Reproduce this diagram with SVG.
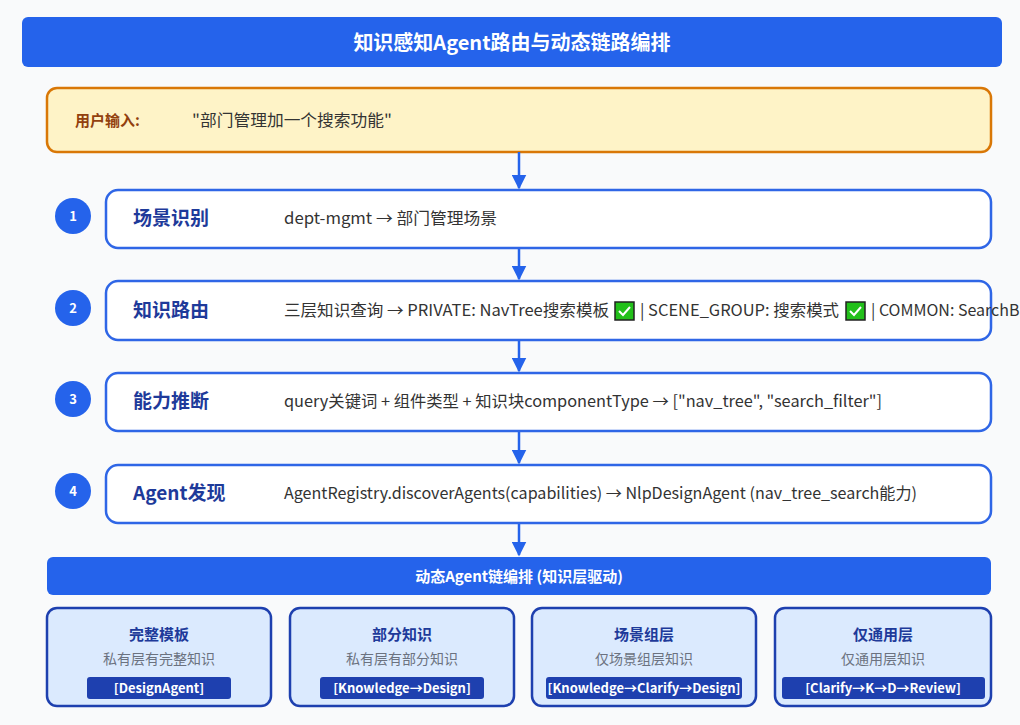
<svg xmlns="http://www.w3.org/2000/svg" width="1020" height="725" viewBox="0 0 1020 725">
<defs>
<style>
text{font-family:"Noto Sans CJK SC","Noto Sans",sans-serif}
.step{fill:#fff;stroke:#2f66e6;stroke-width:2.5}
.num{fill:#2563eb}
.numt{fill:#fff;font-size:13px;font-weight:bold;text-anchor:middle}
.lbl{fill:#1e3a9a;font-size:19px;font-weight:bold}
.desc{fill:#333;font-size:16px}
.card{fill:#dbeafe;stroke:#1e40af;stroke-width:2.5}
.ct{fill:#1e3a9a;font-size:15px;font-weight:bold;text-anchor:middle}
.cs{fill:#6b7280;font-size:14px;text-anchor:middle}
.tag{fill:#1e40af}
.tagt{fill:#fff;font-size:13px;font-weight:bold;text-anchor:middle}
.ar{stroke:#2563eb;stroke-width:2.5}
.ck{fill:#22c01a;stroke:#222;stroke-width:1.5}
</style>
<marker id="ah" viewBox="0 0 10 10" refX="9" refY="5" markerWidth="6" markerHeight="6" orient="auto"><path d="M0,0L10,5L0,10z" fill="#2563eb"/></marker>
</defs>
<rect width="1020" height="725" fill="#f9fafb"/>
<g id="title"><rect x="22" y="17" width="980" height="50" rx="6" fill="#2563eb"/><text x="512" y="50" text-anchor="middle" fill="#fff" font-size="20" font-weight="bold">知识感知Agent路由与动态链路编排</text></g>
<g id="input"><rect x="47" y="88" width="944" height="64" rx="10" fill="#fef3c7" stroke="#d97706" stroke-width="2.5"/><text x="75" y="126" fill="#92400e" font-size="15" font-weight="bold">用户输入:</text><text x="192" y="126" fill="#333" font-size="16" textLength="200" lengthAdjust="spacingAndGlyphs">"部门管理加一个搜索功能"</text></g>
<g id="connectors">
<line class="ar" x1="519" y1="152" x2="519" y2="188" marker-end="url(#ah)"/>
<line class="ar" x1="519" y1="248" x2="519" y2="279" marker-end="url(#ah)"/>
<line class="ar" x1="519" y1="340" x2="519" y2="371" marker-end="url(#ah)"/>
<line class="ar" x1="519" y1="431" x2="519" y2="463" marker-end="url(#ah)"/>
<line class="ar" x1="519" y1="523" x2="519" y2="555" marker-end="url(#ah)"/>
</g>
<g id="step1"><circle class="num" cx="73" cy="216" r="18"/><text class="numt" x="73" y="221">1</text><rect class="step" x="106" y="190" width="885" height="58" rx="12"/><text class="lbl" x="133" y="225">场景识别</text><text class="desc" x="284" y="224" textLength="213" lengthAdjust="spacingAndGlyphs">dept-mgmt → 部门管理场景</text></g>
<g id="step2"><circle class="num" cx="73" cy="308" r="18"/><text class="numt" x="73" y="313">2</text><rect class="step" x="106" y="281" width="885" height="59" rx="12"/><text class="lbl" x="133" y="317">知识路由</text><text class="desc" x="284" y="316" textLength="325" lengthAdjust="spacingAndGlyphs">三层知识查询 → PRIVATE: NavTree搜索模板</text><rect class="ck" x="615" y="302" width="19" height="18"/><path d="M619,311l4,4l7,-8" fill="none" stroke="#fff" stroke-width="2"/><text class="desc" x="640" y="316" textLength="199" lengthAdjust="spacingAndGlyphs">| SCENE_GROUP: 搜索模式</text><rect class="ck" x="846" y="302" width="19" height="18"/><path d="M850,311l4,4l7,-8" fill="none" stroke="#fff" stroke-width="2"/><text class="desc" x="871" y="316">| COMMON: SearchBar</text></g>
<g id="step3"><circle class="num" cx="73" cy="399" r="18"/><text class="numt" x="73" y="404">3</text><rect class="step" x="106" y="373" width="885" height="58" rx="12"/><text class="lbl" x="133" y="408">能力推断</text><text class="desc" x="284" y="407" textLength="598" lengthAdjust="spacingAndGlyphs">query关键词 + 组件类型 + 知识块componentType → ["nav_tree", "search_filter"]</text></g>
<g id="step4"><circle class="num" cx="73" cy="491" r="18"/><text class="numt" x="73" y="496">4</text><rect class="step" x="106" y="465" width="885" height="58" rx="12"/><text class="lbl" x="133" y="500">Agent发现</text><text class="desc" x="284" y="499" textLength="633" lengthAdjust="spacingAndGlyphs">AgentRegistry.discoverAgents(capabilities) → NlpDesignAgent (nav_tree_search能力)</text></g>
<g id="chain"><rect x="47" y="557" width="944" height="38" rx="6" fill="#2563eb"/><text x="519" y="582" text-anchor="middle" fill="#fff" font-size="15" font-weight="bold">动态Agent链编排 (知识层驱动)</text></g>
<g id="card1"><rect class="card" x="47" y="608" width="224" height="98" rx="10"/><text class="ct" x="159" y="640">完整模板</text><text class="cs" x="159" y="664">私有层有完整知识</text><rect class="tag" x="87" y="677" width="144" height="22" rx="3"/><text class="tagt" x="159" y="693">[DesignAgent]</text></g>
<g id="card2"><rect class="card" x="290" y="608" width="224" height="98" rx="10"/><text class="ct" x="402" y="640">部分知识</text><text class="cs" x="402" y="664">私有层有部分知识</text><rect class="tag" x="320" y="677" width="164" height="22" rx="3"/><text class="tagt" x="402" y="693">[Knowledge→Design]</text></g>
<g id="card3"><rect class="card" x="532" y="608" width="224" height="98" rx="10"/><text class="ct" x="644" y="640">场景组层</text><text class="cs" x="644" y="664">仅场景组层知识</text><rect class="tag" x="546" y="677" width="196" height="22" rx="3"/><text class="tagt" x="644" y="693">[Knowledge→Clarify→Design]</text></g>
<g id="card4"><rect class="card" x="775" y="608" width="216" height="98" rx="10"/><text class="ct" x="883" y="640">仅通用层</text><text class="cs" x="883" y="664">仅通用层知识</text><rect class="tag" x="782" y="677" width="203" height="22" rx="3"/><text class="tagt" x="883" y="693">[Clarify→K→D→Review]</text></g>
</svg>
